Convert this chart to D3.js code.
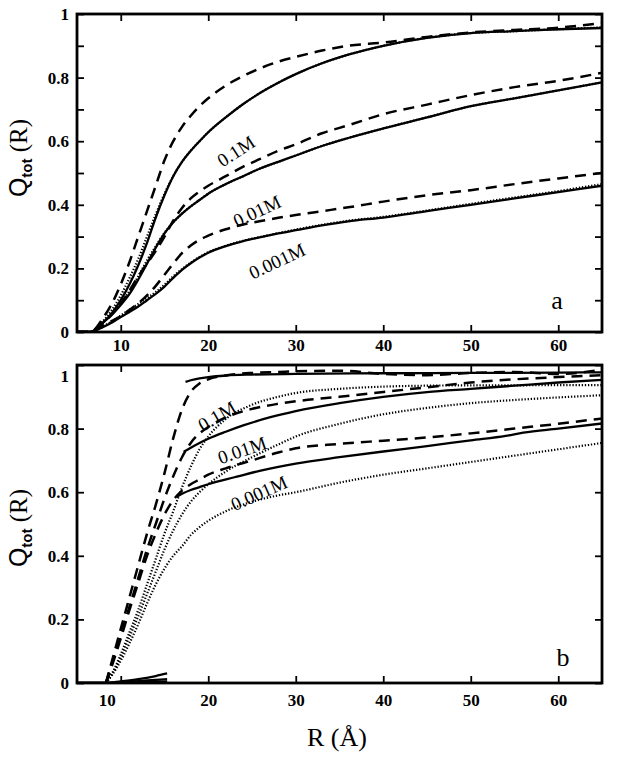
<!DOCTYPE html>
<html><head><meta charset="utf-8">
<script src="https://cdn.jsdelivr.net/npm/d3@7"></script>
<style>body{margin:0;background:#fff}</style>
</head><body>
<svg id="c" width="618" height="759"></svg>
<script>
// ---------- DATA ----------
const xTicks = [10, 20, 30, 40, 50, 60];
const yTicks = [0, 0.2, 0.4, 0.6, 0.8, 1];
const yTickLabels = ["0", "0.2", "0.4", "0.6", "0.8", "1"];
const yMinorTop = [0.1, 0.3, 0.5, 0.7, 0.9];
const concLabels = ["0.1M", "0.01M", "0.001M"];

// panel a
const topR = [5, 6.5, 8, 9, 10, 11, 12, 13, 14, 15, 16, 17, 18, 19, 20, 22, 24, 26, 28, 30, 33, 36, 40, 45, 50, 55, 60, 65];
const aSolid01   = [0, 0, 0.03, 0.06, 0.10, 0.15, 0.21, 0.28, 0.36, 0.43, 0.49, 0.535, 0.57, 0.6, 0.628, 0.675, 0.717, 0.753, 0.784, 0.811, 0.845, 0.872, 0.9, 0.925, 0.94, 0.946, 0.952, 0.956];
const aDotted01  = [0, 0, 0.035, 0.07, 0.115, 0.17, 0.23, 0.30, 0.37, 0.435, 0.49, 0.535, 0.57, 0.6, 0.628, 0.675, 0.717, 0.753, 0.784, 0.811, 0.845, 0.872, 0.9, 0.925, 0.94, 0.946, 0.952, 0.958];
const aDashed01  = [0, 0, 0.045, 0.09, 0.15, 0.22, 0.30, 0.38, 0.46, 0.54, 0.60, 0.645, 0.68, 0.71, 0.735, 0.775, 0.805, 0.83, 0.85, 0.865, 0.885, 0.9, 0.91, 0.928, 0.942, 0.95, 0.957, 0.972];
const aSolid001  = [0, 0, 0.03, 0.055, 0.085, 0.12, 0.165, 0.215, 0.265, 0.31, 0.345, 0.372, 0.395, 0.415, 0.435, 0.465, 0.49, 0.515, 0.535, 0.555, 0.585, 0.61, 0.64, 0.675, 0.71, 0.735, 0.76, 0.785];
const aDotted001 = [0, 0, 0.032, 0.06, 0.09, 0.13, 0.175, 0.225, 0.27, 0.312, 0.345, 0.372, 0.395, 0.415, 0.435, 0.465, 0.49, 0.515, 0.535, 0.555, 0.585, 0.61, 0.64, 0.675, 0.71, 0.735, 0.76, 0.785];
const aDashed001 = [0, 0, 0.03, 0.055, 0.09, 0.13, 0.175, 0.215, 0.255, 0.30, 0.35, 0.39, 0.42, 0.442, 0.46, 0.49, 0.52, 0.545, 0.57, 0.59, 0.625, 0.65, 0.685, 0.715, 0.745, 0.77, 0.79, 0.815];
const aSolid0001  = [0, 0, 0.016, 0.03, 0.047, 0.063, 0.08, 0.10, 0.12, 0.143, 0.17, 0.195, 0.216, 0.234, 0.249, 0.27, 0.286, 0.298, 0.31, 0.32, 0.335, 0.348, 0.36, 0.38, 0.40, 0.42, 0.44, 0.46];
const aDotted0001 = [0, 0, 0.018, 0.034, 0.052, 0.07, 0.088, 0.107, 0.126, 0.149, 0.175, 0.198, 0.218, 0.236, 0.251, 0.271, 0.287, 0.299, 0.311, 0.322, 0.337, 0.35, 0.362, 0.382, 0.403, 0.423, 0.443, 0.465];
const aDashed0001 = [0, 0, 0.02, 0.035, 0.05, 0.07, 0.09, 0.115, 0.145, 0.18, 0.215, 0.248, 0.272, 0.29, 0.303, 0.323, 0.338, 0.349, 0.359, 0.368, 0.38, 0.392, 0.41, 0.43, 0.446, 0.465, 0.483, 0.50];

// panel b
const botR = [8.3, 9, 10, 11, 12, 13, 14, 15, 16, 17, 18, 19, 20, 22, 25, 28, 30, 35, 40, 45, 50, 55, 60, 65];
const bDashed01   = [0, 0.07, 0.17, 0.27, 0.37, 0.47, 0.56, 0.66, 0.77, 0.86, 0.915, 0.942, 0.955, 0.967, 0.975, 0.978, 0.98, 0.982, 0.972, 0.968, 0.975, 0.978, 0.972, 0.985];
const bDashed001  = [0, 0.06, 0.15, 0.24, 0.33, 0.42, 0.50, 0.58, 0.65, 0.71, 0.755, 0.785, 0.805, 0.835, 0.862, 0.878, 0.886, 0.90, 0.915, 0.93, 0.945, 0.955, 0.962, 0.968];
const bDashed0001 = [0, 0.055, 0.14, 0.23, 0.315, 0.40, 0.47, 0.53, 0.575, 0.605, 0.625, 0.64, 0.655, 0.675, 0.70, 0.725, 0.738, 0.752, 0.762, 0.772, 0.785, 0.80, 0.815, 0.832];
const bDotted01   = [0, 0.03, 0.09, 0.16, 0.23, 0.31, 0.39, 0.47, 0.54, 0.615, 0.68, 0.735, 0.775, 0.83, 0.875, 0.9, 0.912, 0.925, 0.932, 0.935, 0.936, 0.936, 0.937, 0.937];
const bDotted001  = [0, 0.028, 0.08, 0.145, 0.21, 0.28, 0.35, 0.42, 0.48, 0.53, 0.57, 0.6, 0.625, 0.665, 0.71, 0.75, 0.775, 0.815, 0.845, 0.865, 0.88, 0.89, 0.898, 0.905];
const bDotted0001 = [0, 0.025, 0.07, 0.125, 0.185, 0.25, 0.31, 0.36, 0.40, 0.43, 0.465, 0.49, 0.51, 0.54, 0.57, 0.59, 0.60, 0.63, 0.655, 0.675, 0.695, 0.715, 0.735, 0.755];

const bSolidR01   = [17.4, 18, 19, 20, 22, 25, 30, 40, 50, 60, 65];
const bSolid01    = [0.947, 0.952, 0.958, 0.962, 0.967, 0.97, 0.972, 0.974, 0.975, 0.976, 0.977];
const bSolidR001  = [17.2, 18, 19, 20, 22, 24, 27, 30, 35, 40, 45, 50, 55, 60, 65];
const bSolid001   = [0.727, 0.74, 0.755, 0.768, 0.79, 0.81, 0.835, 0.855, 0.88, 0.9, 0.915, 0.925, 0.935, 0.945, 0.953];
const bSolidR0001 = [16.4, 17, 18, 19, 20, 23, 26, 30, 35, 40, 45, 50, 54, 56, 60, 65];
const bSolid0001  = [0.586, 0.595, 0.607, 0.616, 0.625, 0.647, 0.668, 0.69, 0.71, 0.728, 0.745, 0.763, 0.777, 0.787, 0.8, 0.816];

const bLowR     = [5, 8.3, 10, 12, 14, 15.3];
const bLow01    = [0, 0, 0.005, 0.012, 0.022, 0.03];
const bLow001   = [0, 0, 0.003, 0.006, 0.01, 0.012];
const bLow0001  = [0, 0, 0.001, 0.002, 0.004, 0.005];

// ---------- DRAW ----------
const svg = d3.select("#c");
const SERIF = "'Liberation Serif','Times New Roman',serif";
const SANS = "'Liberation Sans',Arial,sans-serif";
const L = 77, Rt = 602;

const styles = {
  solid: {w: 2.3, dash: null},
  dashed: {w: 2.5, dash: "11,7"},
  dotted: {w: 2.2, dash: "1.3,1.8"}
};

const panels = [
  {
    id: "a", top: 14, bottom: 332, labPad: 7, minor: true, letter: "a", letterPos: [557, 309],
    series: [
      [topR, aDotted01, "dotted"], [topR, aDotted001, "dotted"], [topR, aDotted0001, "dotted"],
      [topR, aSolid01, "solid"], [topR, aSolid001, "solid"], [topR, aSolid0001, "solid"],
      [topR, aDashed01, "dashed"], [topR, aDashed001, "dashed"], [topR, aDashed0001, "dashed"]
    ],
    ann: [[236, 151, -33], [257, 211, -25], [277, 261, -25]],
    titleY: 158
  },
  {
    id: "b", top: 365, bottom: 683, labPad: 11, minor: false, letter: "b", letterPos: [563, 666],
    series: [
      [botR, bDotted01, "dotted"], [botR, bDotted001, "dotted"], [botR, bDotted0001, "dotted"],
      [bSolidR01, bSolid01, "solid"], [bSolidR001, bSolid001, "solid"], [bSolidR0001, bSolid0001, "solid"],
      [bLowR, bLow01, "solid"], [bLowR, bLow001, "solid"], [bLowR, bLow0001, "solid"],
      [botR, bDashed01, "dashed"], [botR, bDashed001, "dashed"], [botR, bDashed0001, "dashed"]
    ],
    ann: [[217, 416, -30], [242, 450, -19], [259, 493, -24]],
    titleY: 528
  }
];

panels.forEach((p, pi) => {
  const x = d3.scaleLinear().domain([5, 65]).range([L, Rt]);
  const y = d3.scaleLinear().domain([0, 1]).range([p.bottom, p.top]);
  const g = svg.append("g");

  const clipId = "clip" + p.id;
  svg.append("defs").append("clipPath").attr("id", clipId)
    .append("rect").attr("x", L).attr("y", p.top - 2).attr("width", Rt - L).attr("height", p.bottom - p.top + 2);

  const line = d3.line().x(d => x(d[0])).y(d => y(d[1])).curve(d3.curveMonotoneX);
  const cg = g.append("g").attr("clip-path", `url(#${clipId})`);
  p.series.forEach(([rs, vs, st]) => {
    const pts = rs.map((r, i) => [r, vs[i]]);
    const s = styles[st];
    cg.append("path").attr("d", line(pts)).attr("fill", "none")
      .attr("stroke", "#000").attr("stroke-width", s.w)
      .attr("stroke-dasharray", s.dash).attr("stroke-linecap", "butt");
  });

  const styleAxis = sel => {
    sel.select(".domain").remove();
    sel.selectAll(".tick line").attr("stroke", "#000").attr("stroke-width", 1.8);
    sel.selectAll("text").attr("font-family", SERIF).attr("font-size", 17)
      .attr("font-weight", "bold").attr("fill", "#000");
  };
  const bx = g.append("g").attr("transform", `translate(0,${p.bottom})`)
    .call(d3.axisBottom(x).tickValues(xTicks).tickSize(-7).tickPadding(p.labPad).tickFormat(d3.format("d")))
    .call(styleAxis);
  g.append("g").attr("transform", `translate(0,${p.top})`)
    .call(d3.axisTop(x).tickValues(xTicks).tickSize(-7).tickFormat(""))
    .call(styleAxis);
  const ly = g.append("g").attr("transform", `translate(${L},0)`)
    .call(d3.axisLeft(y).tickValues(yTicks).tickSize(-7).tickPadding(8).tickFormat((d, i) => yTickLabels[i]))
    .call(styleAxis);
  g.append("g").attr("transform", `translate(${Rt},0)`)
    .call(d3.axisRight(y).tickValues(yTicks).tickSize(-7).tickFormat(""))
    .call(styleAxis);
  if (p.minor) {
    g.append("g").attr("transform", `translate(${L},0)`)
      .call(d3.axisLeft(y).tickValues(yMinorTop).tickSize(-7).tickFormat("")).call(styleAxis);
    g.append("g").attr("transform", `translate(${Rt},0)`)
      .call(d3.axisRight(y).tickValues(yMinorTop).tickSize(-7).tickFormat("")).call(styleAxis);
  }
  if (pi === 1) {
    bx.selectAll(".tick").filter(d => d === 10).select("text").attr("dx", -14);
    ly.selectAll(".tick").filter(d => d === 1).select("text").attr("dy", "0.95em");
  }

  g.append("rect").attr("x", L).attr("y", p.top).attr("width", Rt - L).attr("height", p.bottom - p.top)
    .attr("fill", "none").attr("stroke", "#000").attr("stroke-width", 2.8);

  p.ann.forEach(([ax, ay, ang], i) => {
    g.append("text").attr("transform", `translate(${ax},${ay}) rotate(${ang})`)
      .attr("text-anchor", "middle").attr("dy", "0.35em")
      .attr("font-family", SERIF).attr("font-size", 19).text(concLabels[i]);
  });

  g.append("text").attr("x", p.letterPos[0]).attr("y", p.letterPos[1]).attr("text-anchor", "middle")
    .attr("font-family", SERIF).attr("font-size", 26).text(p.letter);

  const t = g.append("text").attr("transform", `translate(27,${p.titleY}) rotate(-90)`)
    .attr("text-anchor", "middle").attr("font-size", 25).attr("font-family", SERIF);
  t.append("tspan").attr("font-family", SANS).text("Q");
  t.append("tspan").attr("font-family", SANS).attr("font-size", 15).attr("font-weight", "bold").attr("dy", 5).text("tot");
  t.append("tspan").attr("dy", -5).text(" (R)");
});

svg.append("text").attr("x", 337).attr("y", 746).attr("text-anchor", "middle")
  .attr("font-family", SERIF).attr("font-size", 26).text("R (Å)");
</script>
</body></html>
